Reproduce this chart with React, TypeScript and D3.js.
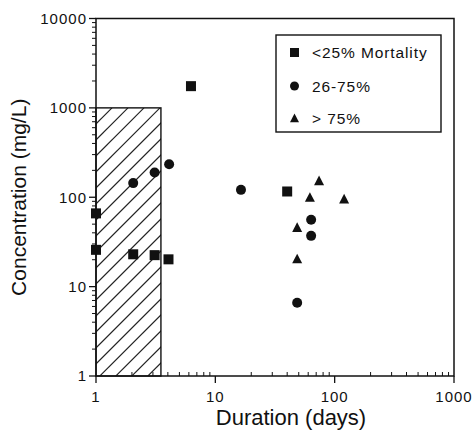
import React from "react";
import * as d3 from "d3";

// Data (duration in days, concentration mg/L)
const lowDur = [6.25, 1, 1, 2.05, 3.1, 4.05, 40];
const lowConc = [1750, 66, 25.8, 23, 22.5, 20.2, 116];
const midDur = [4.1, 3.1, 2.05, 16.4, 63.5, 63.5, 48.5];
const midConc = [234, 189, 144, 121, 56, 37, 6.6];
const highDur = [74, 62, 120, 48.5, 48.5];
const highConc = [152, 99, 95, 45.5, 20.3];
const legendLabels = ["<25% Mortality", "26-75%", "> 75%"];
const xTicks = [1, 10, 100, 1000];
const yTicks = [1, 10, 100, 1000, 10000];
const shadeMaxDur = 3.5;
const shadeMaxConc = 1000;

const W = 474, H = 432;
const L = 96, R = 454, T = 18.5, B = 376;
const FONT = "Liberation Sans, Arial, Helvetica, sans-serif";

export default function App() {
  const x = d3.scaleLog().domain([1, 1000]).range([L, R]);
  const y = d3.scaleLog().domain([1, 10000]).range([B, T]);

  const minorX: number[] = [];
  const minorY: number[] = [];
  for (let d = 1; d < 1000; d *= 10) for (let k = 2; k <= 9; k++) minorX.push(d * k);
  for (let d = 1; d < 10000; d *= 10) for (let k = 2; k <= 9; k++) minorY.push(d * k);

  const sx0 = x(1), sx1 = x(shadeMaxDur), sy0 = y(shadeMaxConc), sy1 = y(1);
  const hatch: string[] = [];
  const sp = 16;
  for (let c = sx0 - (sy1 - sy0); c < sx1 + sp; c += sp) {
    hatch.push(`M${c},${sy1}L${c + (sy1 - sy0)},${sy0}`);
  }

  const sq = (cx: number, cy: number, s: number, key: string) => (
    <rect key={key} x={cx - s / 2} y={cy - s / 2} width={s} height={s} fill="#111" />
  );
  const ci = (cx: number, cy: number, r: number, key: string) => (
    <circle key={key} cx={cx} cy={cy} r={r} fill="#111" />
  );
  const tri = (cx: number, cy: number, s: number, key: string) => (
    <path key={key} d={`M${cx},${cy - s * 0.55}L${cx + s / 2},${cy + s * 0.42}L${cx - s / 2},${cy + s * 0.42}Z`} fill="#111" />
  );

  return (
    <svg width={W} height={H} style={{ position: "absolute", left: 0, top: 0, background: "#fff" }} fontFamily={FONT}>
      <defs>
        <clipPath id="shade">
          <rect x={sx0} y={sy0} width={sx1 - sx0} height={sy1 - sy0} />
        </clipPath>
      </defs>
      <g clipPath="url(#shade)">
        {hatch.map((d, i) => (
          <path key={i} d={d} stroke="#222" strokeWidth={1.1} fill="none" />
        ))}
      </g>
      <rect x={sx0} y={sy0} width={sx1 - sx0} height={sy1 - sy0} fill="none" stroke="#111" strokeWidth={1.4} />

      <rect x={L} y={T} width={R - L} height={B - T} fill="none" stroke="#111" strokeWidth={1.5} />

      {yTicks.map((t) => (
        <g key={"yt" + t}>
          <line x1={L - 7} x2={L} y1={y(t)} y2={y(t)} stroke="#111" strokeWidth={1.3} />
          <text x={L - 9} y={y(t)} dy="0.36em" textAnchor="end" fontSize={15} letterSpacing={1} fill="#111">{t}</text>
        </g>
      ))}
      {minorY.map((t) => (
        <line key={"ym" + t} x1={L - 4} x2={L} y1={y(t)} y2={y(t)} stroke="#111" strokeWidth={1} />
      ))}
      {xTicks.map((t) => (
        <g key={"xt" + t}>
          <line x1={x(t)} x2={x(t)} y1={B} y2={B + 7} stroke="#111" strokeWidth={1.3} />
          <text x={x(t)} y={B + 26} textAnchor="middle" fontSize={15} letterSpacing={1} fill="#111">{t}</text>
        </g>
      ))}
      {minorX.map((t) => (
        <line key={"xm" + t} x1={x(t)} x2={x(t)} y1={B} y2={B - 4} stroke="#111" strokeWidth={1} />
      ))}

      <text x={291} y={425} textAnchor="middle" fontSize={22} fill="#111">Duration (days)</text>
      <text transform={`translate(26,${(T + B) / 2}) rotate(-90)`} textAnchor="middle" fontSize={21} fill="#111">Concentration (mg/L)</text>

      {lowDur.map((d, i) => sq(x(d), y(lowConc[i]), 10, "s" + i))}
      {midDur.map((d, i) => ci(x(d), y(midConc[i]), 5, "c" + i))}
      {highDur.map((d, i) => tri(x(d), y(highConc[i]), 10, "t" + i))}

      <rect x={276} y={35} width={165} height={97} fill="#fff" stroke="#111" strokeWidth={1.4} />
      {sq(294.5, 52.5, 9, "ls")}
      {ci(294.5, 86, 4.5, "lc")}
      {tri(294.5, 118.5, 9, "lt")}
      {legendLabels.map((lab, i) => (
        <text key={lab} x={312} y={[52.5, 86, 118.5][i]} dy="0.36em" fontSize={15.5} letterSpacing={0.9} fill="#111">{lab}</text>
      ))}
    </svg>
  );
}
